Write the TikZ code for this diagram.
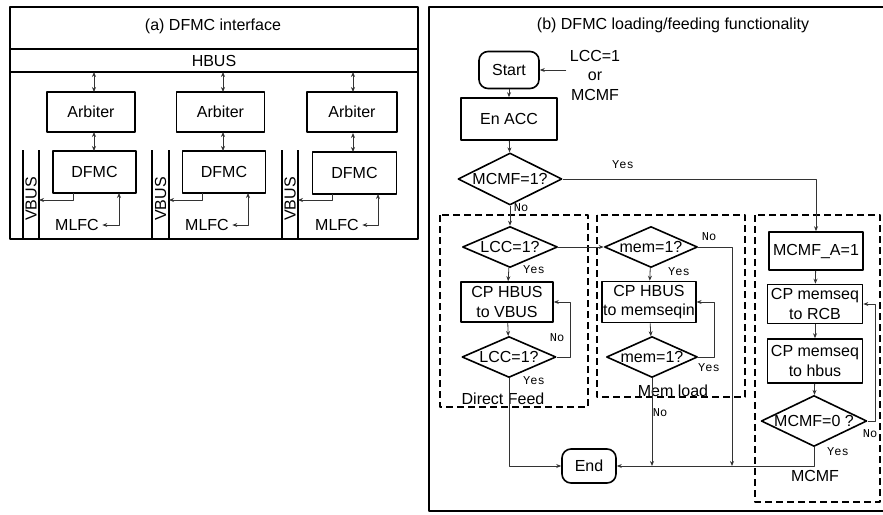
\documentclass[tikz,border=0pt]{standalone}
\usepackage{fontspec}
\setmainfont{Liberation Sans}
\setmonofont{Liberation Mono}
\usetikzlibrary{shapes.geometric,arrows.meta}

\tikzset{
  blk/.style={draw, line width=1.6pt, inner sep=1pt, align=center},
  term/.style={draw, line width=1.6pt, rounded corners=9pt, inner sep=1pt},
  dec/.style={draw, diamond, line width=1.6pt, inner sep=0pt, aspect=2.3},
  wire/.style={line width=0.8pt, black!80},
  grp/.style={line width=2pt, dash pattern=on 7pt off 4pt},
  lbl/.style={font=\fontsize{12}{14}\ttfamily, inner sep=0pt}
}

\begin{document}
\begin{tikzpicture}[
            x=1pt, y=-1pt,
            line join=round,
            >={Stealth[length=5pt,width=4pt]},
            font=\fontsize{16}{19.5}\selectfont
        ]

        \clip (0,0) rectangle (883,514);

        % ---------- (a) DFMC interface ----------
        \draw[line width=2.2pt] (10,7) rectangle (418,239);
        \draw[line width=1.5pt] (10,49) -- (418,49);
        \draw[line width=1.5pt] (10,72) -- (418,72);
        \node (titleA) at (213,26) {(a) DFMC interface};
        \node (hbus) at (214,61) {HBUS};

        % first column
        \node[blk, minimum width=88pt, minimum height=40pt] (arb1) at (91,112) {Arbiter};
        \node[blk, minimum width=83pt, minimum height=42pt] (dfmc1) at (94.5,172) {DFMC};
        \draw[line width=1.5pt] (23,150) -- (23,239);
        \draw[line width=1.5pt] (39,150) -- (39,239);
        \node[rotate=90] (vbus1) at (31,199) {VBUS};
        \node (mlfc1) at (77,225) {MLFC};
        \draw[wire,<->] (94,72) -- (94,92);
        \draw[wire,<->] (94,132) -- (94,151);
        \draw[wire,->] (73,193) |- (39,200);
        \draw[wire,<->] (mlfc1.east) -| (119,193);

        % second column
        \node[blk, minimum width=88pt, minimum height=40pt] (arb2) at (220.5,112) {Arbiter};
        \node[blk, minimum width=83pt, minimum height=42pt] (dfmc2) at (224,172) {DFMC};
        \draw[line width=1.5pt] (152,150) -- (152,239);
        \draw[line width=1.5pt] (169,150) -- (169,239);
        \node[rotate=90] (vbus2) at (160.5,199) {VBUS};
        \node (mlfc2) at (207,225) {MLFC};
        \draw[wire,<->] (223,72) -- (223,92);
        \draw[wire,<->] (223,132) -- (223,151);
        \draw[wire,->] (202,193) |- (169,200);
        \draw[wire,<->] (mlfc2.east) -| (248,193);

        % third column
        \node[blk, minimum width=90pt, minimum height=40pt] (arb3) at (352,112) {Arbiter};
        \node[blk, minimum width=84pt, minimum height=42pt] (dfmc3) at (354.5,173) {DFMC};
        \draw[line width=1.5pt] (282,150) -- (282,239);
        \draw[line width=1.5pt] (298,150) -- (298,239);
        \node[rotate=90] (vbus3) at (290,199) {VBUS};
        \node (mlfc3) at (337,225) {MLFC};
        \draw[wire,<->] (353,72) -- (353,92);
        \draw[wire,<->] (353,133) -- (353,152);
        \draw[wire,->] (332,194) |- (298,200);
        \draw[wire,<->] (mlfc3.east) -| (378,194);

        % ---------- (b) DFMC loading/feeding functionality ----------
        \draw[line width=2.2pt] (429,7) rectangle (900,511);
        \node (titleB) at (673,25) {(b) DFMC loading/feeding functionality};

        % dashed groups
        \draw[grp] (440,215) rectangle (588,407);
        \draw[grp] (597,215) rectangle (745,397);
        \draw[grp] (755,215) rectangle (880,502);
        \node (gDirect) at (503,399) {Direct Feed};
        \node (gMem) at (673,391) {Mem load};
        \node (gMcmf) at (815,476) {MCMF};

        % main path
        \node[term, minimum width=60pt, minimum height=37pt] (start) at (509,70) {Start};
        \node[align=center] (cond) at (595,75) {LCC=1\\or\\MCMF};
        \node[blk, minimum width=96pt, minimum height=42pt] (enacc) at (509,119) {En ACC};
        \node[dec, minimum width=104pt, minimum height=52pt] (mcmf1) at (510,179) {MCMF=1?};
        \node[term, minimum width=54pt, minimum height=34pt] (end) at (589,466) {End};

        % direct feed
        \node[dec, minimum width=95pt, minimum height=41pt] (lcc1) at (510,247) {LCC=1?};
        \node[blk, minimum width=92pt, minimum height=40pt] (cpv) at (507,302) {CP HBUS\\to VBUS};
        \node[dec, minimum width=94pt, minimum height=41pt] (lcc2) at (509,357) {LCC=1?};

        % mem load
        \node[dec, minimum width=93pt, minimum height=41pt] (mem1) at (651,247) {mem=1?};
        \node[blk, minimum width=92pt, minimum height=41pt] (cpm) at (649,302) {CP HBUS\\to memseqin};
        \node[dec, minimum width=91pt, minimum height=41pt] (mem2) at (652,357) {mem=1?};

        % MCMF
        \node[blk, minimum width=94pt, minimum height=38pt] (mcmfa) at (816,251) {MCMF\_A=1};
        \node[blk, minimum width=95pt, minimum height=39pt] (rcb) at (815,304) {CP memseq\\to RCB};
        \node[blk, minimum width=95pt, minimum height=44pt] (hb) at (815,361) {CP memseq\\to hbus};
        \node[dec, minimum width=102pt, minimum height=51pt] (mcmf0) at (814,421) {MCMF=0 ?};

        % free ends on the bottom line
        \coordinate (memNo) at (732,466);
        \coordinate (loadNo) at (652,466);

        % connectors
        \draw[wire,->] (cond.west |- start.east) -- (start.east);
        \draw[wire,->] (start) -- (enacc);
        \draw[wire,->] (enacc) -- (mcmf1);
        \draw[wire,->] (mcmf1.east) -| (mcmfa.north);
        \draw[wire,->] (mcmf1) -- (lcc1);
        \draw[wire,->] (lcc1) -- (cpv);
        \draw[wire,->] (cpv) -- (lcc2);
        \draw[wire,->] (lcc2.east) -- ++(14,0) |- (cpv.east);
        \draw[wire,->] (lcc2.south) |- (end.west);
        \draw[wire,->] (lcc1.east) -- (mem1.west);
        \draw[wire,->] (mem1) -- (cpm);
        \draw[wire,->] (cpm) -- (mem2);
        \draw[wire,->] (mem2.east) -- ++(16,0) |- (cpm.east);
        \draw[wire,->] (mem2.south) -- (loadNo);
        \draw[wire,->] (mem1.east) -| (memNo);
        \draw[wire,->] (mcmfa) -- (rcb);
        \draw[wire,->] (rcb) -- (hb);
        \draw[wire,->] (hb) -- (mcmf0);
        \draw[wire,->] (mcmf0.east) -- ++(8,0) |- (rcb.east);
        \draw[wire,->] (mcmf0.south) |- (end.east);

        % branch labels
        \node[lbl] (yMcmf1) at (623,165) {Yes};
        \node[lbl] (nMcmf1) at (521,208) {No};
        \node[lbl] (yLcc1) at (534,270) {Yes};
        \node[lbl] (nLcc2) at (557,338) {No};
        \node[lbl] (yLcc2) at (534,381) {Yes};
        \node[lbl] (nMem1) at (709,237) {No};
        \node[lbl] (yMem1) at (679,272) {Yes};
        \node[lbl] (yMem2) at (709,368) {Yes};
        \node[lbl] (nMem2) at (660,413) {No};
        \node[lbl] (nMcmf0) at (870,434) {No};
        \node[lbl] (yMcmf0) at (838,452) {Yes};

        \end{tikzpicture}
\end{document}
